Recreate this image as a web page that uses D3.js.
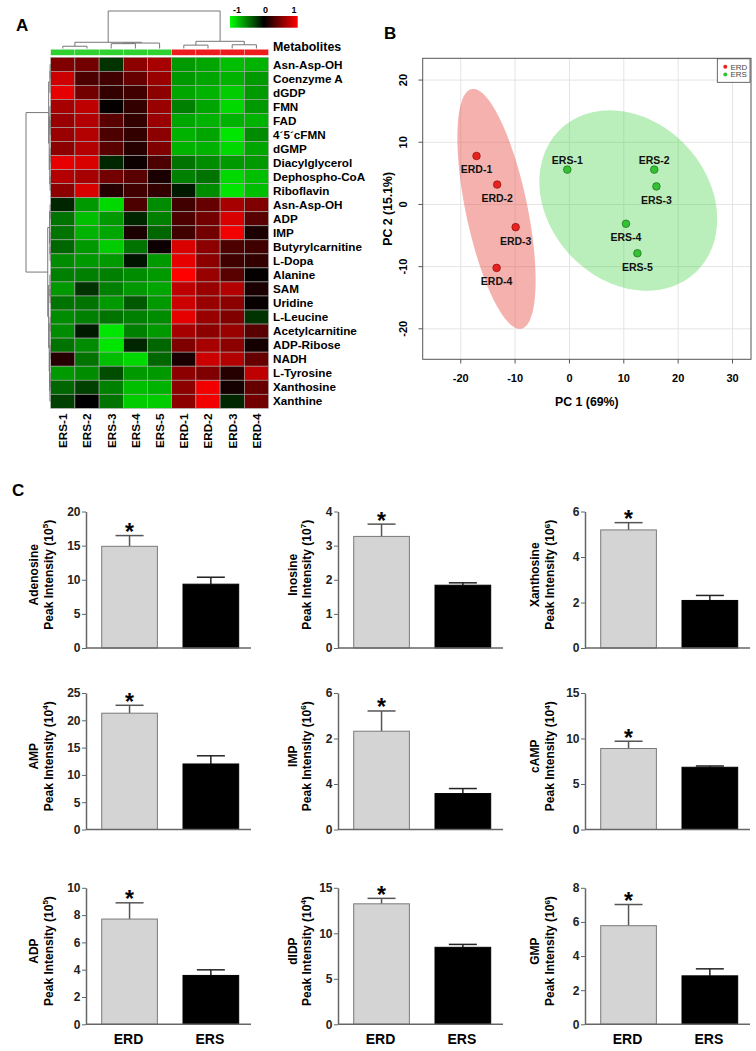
<!DOCTYPE html>
<html><head><meta charset="utf-8">
<script src="https://cdn.jsdelivr.net/npm/d3@7"></script>
<style>
body{margin:0;background:#fff}
svg{display:block}
text{font-family:Arial,"Liberation Sans",sans-serif}
</style>
</head><body>
<svg id="fig" width="756" height="1051"></svg>
<script>
// ================= DATA =================
// Panel A heatmap
const hmSamples = ["ERS-1","ERS-2","ERS-3","ERS-4","ERS-5","ERD-1","ERD-2","ERD-3","ERD-4"];
const hmGroups  = ["ERS","ERS","ERS","ERS","ERS","ERD","ERD","ERD","ERD"];
const hmMetabolites = ["Asn-Asp-OH","Coenzyme A","dGDP","FMN","FAD","4\u00b45\u00b4cFMN","dGMP","Diacylglycerol","Dephospho-CoA","Riboflavin",
  "Asn-Asp-OH","ADP","IMP","Butyrylcarnitine","L-Dopa","Alanine","SAM","Uridine","L-Leucine","Acetylcarnitine","ADP-Ribose","NADH","L-Tyrosine","Xanthosine","Xanthine"];
const hmValues = [
  [ 0.50, 0.45,-0.20, 0.55, 0.65, -0.60,-0.65,-0.75,-0.70],
  [ 0.80, 0.30, 0.25, 0.40, 0.60, -0.60,-0.65,-0.70,-0.60],
  [ 0.90, 0.45, 0.20, 0.25, 0.55, -0.65,-0.70,-0.80,-0.60],
  [ 0.65, 0.75, 0.02, 0.20, 0.60, -0.50,-0.65,-0.85,-0.60],
  [ 0.60, 0.70, 0.35, 0.20, 0.60, -0.65,-0.70,-0.70,-0.70],
  [ 0.60, 0.70, 0.30, 0.20, 0.55, -0.70,-0.65,-0.90,-0.55],
  [ 0.55, 0.70, 0.35, 0.15, 0.50, -0.70,-0.70,-0.85,-0.65],
  [ 0.90, 0.85,-0.15, 0.05, 0.30, -0.45,-0.55,-0.60,-0.60],
  [ 0.70, 0.65, 0.45, 0.35, 0.10, -0.50,-0.45,-0.85,-0.75],
  [ 0.55, 0.85, 0.15, 0.25, 0.20, -0.10,-0.55,-0.90,-0.75],
  [-0.15,-0.60,-0.85, 0.30,-0.55,  0.25, 0.40, 0.65, 0.50],
  [-0.45,-0.75,-0.60,-0.15,-0.50,  0.30, 0.45, 0.85, 0.35],
  [-0.45,-0.70,-0.65, 0.10,-0.40,  0.25, 0.45, 0.95, 0.10],
  [-0.40,-0.60,-0.80,-0.45, 0.05,  0.85, 0.55, 0.30, 0.25],
  [-0.55,-0.60,-0.60,-0.08,-0.60,  0.90, 0.55, 0.25, 0.20],
  [-0.50,-0.50,-0.50,-0.55,-0.60,  1.00, 0.60, 0.35, 0.02],
  [-0.60,-0.20,-0.50,-0.60,-0.65,  0.75, 0.60, 0.70, 0.10],
  [-0.45,-0.45,-0.60,-0.35,-0.60,  0.80, 0.60, 0.55, 0.03],
  [-0.55,-0.50,-0.45,-0.50,-0.55,  0.90, 0.60, 0.50,-0.20],
  [-0.55,-0.10,-0.90,-0.50,-0.60,  0.65, 0.55, 0.60, 0.35],
  [-0.45,-0.55,-0.90,-0.15,-0.40,  0.50, 0.65, 0.55, 0.08],
  [ 0.15,-0.45,-0.75,-0.85,-0.40,  0.10, 0.80, 0.70, 0.40],
  [-0.60,-0.55,-0.30,-0.60,-0.60,  0.55, 0.50, 0.15, 0.75],
  [-0.40,-0.25,-0.50,-0.75,-0.70,  0.55, 0.95, 0.08, 0.40],
  [-0.25, 0.00,-0.45,-0.80,-0.80,  0.55, 0.95,-0.15, 0.45]
];
const hmLegendTicks = [-1, 0, 1];
// column dendrogram (leaf = column index, h = merge height)
const colTree = {h:10, c:[
  {h:1.66, c:[{h:0.6, c:[0,1]}, {h:1.45, c:[{h:1.3, c:[2,3]}, 4]}]},
  {h:1.92, c:[{h:0.9, c:[5,6]}, {h:1.0, c:[7,8]}]}
]};
// row dendrogram (leaf = row index)
const rowTree = [
  [[[0,1],2],[[3,[4,5]],[[6,7],[8,9]]]],
  [[[10,11],[12,[13,14]]],[[15,[16,17]],[[18,19],[[20,21],[[22,23],24]]]]]
];

// Panel B PCA
const pcaSamples = ["ERD-1","ERD-2","ERD-3","ERD-4","ERS-1","ERS-2","ERS-3","ERS-4","ERS-5"];
const pcaGroups  = ["ERD","ERD","ERD","ERD","ERS","ERS","ERS","ERS","ERS"];
const pc1 = [-17.1,-13.3,-9.9,-13.4, -0.4,15.6,16.0,10.4,12.5];
const pc2 = [  7.8,  3.2,-3.65,-10.2, 5.6, 5.6, 2.9,-3.1,-7.85];
const pcaXTicks = [-20,-10,0,10,20,30];
const pcaYTicks = [-20,-10,0,10,20];
const pcaLabelAbove = ["ERS-1","ERS-2"];

// Panel C bar charts
const barGroups = ["ERD","ERS"];
const barMetabolites = ["Adenosine","Inosine","Xanthosine","AMP","IMP","cAMP","ADP","dIDP","GMP"];
const barExponents   = ["5","7","6","4","6","4","5","4","6"];
const erdMean = [14.9, 3.27, 5.19, 21.3, 4.32, 8.9, 7.71, 13.24, 5.78];
const erdSem  = [1.57, 0.36, 0.32, 1.45, 0.89, 0.8, 1.19, 0.60, 1.24];
const ersMean = [9.35, 1.84, 2.09, 12.0, 1.58, 6.84, 3.58, 8.46, 2.84];
const ersSem  = [1.02, 0.07, 0.22, 1.5, 0.22, 0.14, 0.41, 0.32, 0.41];
const barYMax = [20, 4, 6, 25, 6, 15, 10, 15, 8];
const barYTicks = [[0,5,10,15,20],[0,1,2,3,4],[0,2,4,6],[0,5,10,15,20,25],[0,2,4,6],[0,5,10,15],[0,2,4,6,8,10],[0,5,10,15],[0,2,4,6,8]];
const barYTickLabels = [null,null,null,null,["0","4","2","6"],null,null,null,null];

// ================= DRAW =================
const svg = d3.select("#fig");
const FONT = "Arial, 'Liberation Sans', sans-serif";

function panelLetter(t, x, y){
  svg.append("text").attr("x",x).attr("y",y).attr("font-size",17).attr("font-weight","bold").text(t);
}

// ---------- Panel A ----------
panelLetter("A", 16, 31);
const hx = d3.scaleBand().domain(d3.range(hmSamples.length)).range([50.7, 268.5]);
const hy = d3.scaleBand().domain(d3.range(hmMetabolites.length)).range([57.3, 408.3]);
const hc = d3.scaleLinear().domain([-1,0,1]).range(["#00ff00","#000000","#ff0000"]).clamp(true);
const gA = svg.append("g");

hmValues.forEach((row, r) => {
  row.forEach((v, c) => {
    gA.append("rect").attr("x", hx(c)).attr("y", hy(r))
      .attr("width", hx.bandwidth()).attr("height", hy.bandwidth())
      .attr("fill", hc(v)).attr("stroke", "#a8a8a8").attr("stroke-width", 0.6);
  });
});
// group bar
const groupColor = {ERS:"#2fd02f", ERD:"#ee1c1c"};
hmGroups.forEach((g, c) => {
  gA.append("rect").attr("x", hx(c)).attr("y", 49.3).attr("width", hx.bandwidth()).attr("height", 6)
    .attr("fill", groupColor[g]).attr("stroke", "#fff").attr("stroke-width", 0.3);
});
gA.append("text").attr("x", 273).attr("y", 51).attr("font-size", 12.4).attr("font-weight","bold").text("Metabolites");
// row labels
hmMetabolites.forEach((m, r) => {
  gA.append("text").attr("x", 273).attr("y", hy(r) + hy.bandwidth()/2 + 4.2)
    .attr("font-size", 11.7).attr("font-weight","bold").text(m);
});
// column labels
hmSamples.forEach((s, c) => {
  const cx = hx(c) + hx.bandwidth()/2 + 4.3;
  gA.append("text").attr("transform", `translate(${cx},413.5) rotate(-90)`)
    .attr("text-anchor","end").attr("font-size", 11.7).attr("font-weight","bold").text(s);
});
// dendrograms
function toNode(n){
  if (typeof n === "number") return n;
  const c = n.map(toNode);
  const cnt = c.reduce((a,k)=>a + (typeof k === "number" ? 1 : k.n), 0);
  return {c, n:cnt, h: 0.075*cnt};
}
function drawTree(g, node, leafPos, hScale, vertical){
  if (typeof node === "number") return [leafPos(node), 0];
  const k = node.c.map(ch => drawTree(g, ch, leafPos, hScale, vertical));
  const H = node.h;
  const pts = [[k[0][0], k[0][1]], [k[0][0], H], [k[1][0], H], [k[1][0], k[1][1]]];
  const d = "M" + pts.map(p => vertical ? [p[0], hScale(p[1])] : [hScale(p[1]), p[0]]).join("L");
  g.append("path").attr("d", d).attr("fill","none").attr("stroke","#777").attr("stroke-width",1);
  return [(k[0][0] + k[1][0]) / 2, H];
}
const colH = d3.scaleLinear().domain([0,10]).range([48.5, 11]);
drawTree(gA, colTree, i => hx(i) + hx.bandwidth()/2, colH, true);
const rowRoot = toNode(rowTree); rowRoot.h = 10;
const rowH = d3.scaleLinear().domain([0,10]).range([50.5, 26]);
drawTree(gA, rowRoot, i => hy(i) + hy.bandwidth()/2, rowH, false);

// color legend
const defs = svg.append("defs");
const grad = defs.append("linearGradient").attr("id","hmgrad");
[-1,-0.5,0,0.5,1].forEach(v => grad.append("stop").attr("offset", ((v+1)/2*100)+"%").attr("stop-color", hc(v)));
gA.append("rect").attr("x",230).attr("y",16).attr("width",67.7).attr("height",11.7).attr("fill","url(#hmgrad)");
const lgScale = d3.scaleLinear().domain([-1,1]).range([237, 294]);
hmLegendTicks.forEach(t => {
  gA.append("text").attr("x", lgScale(t)).attr("y", 12.7).attr("text-anchor","middle")
    .attr("font-size", 9).attr("font-weight","bold").text(t);
});

// ---------- Panel B ----------
panelLetter("B", 384, 39);
const px = d3.scaleLinear().domain([-27, 33.4]).range([422.7, 751]);
const py = d3.scaleLinear().domain([-24.9, 23.5]).range([359.3, 58.3]);
const gB = svg.append("g");
// grid
pcaXTicks.forEach(t => gB.append("line").attr("x1",px(t)).attr("x2",px(t)).attr("y1",py.range()[1]).attr("y2",py.range()[0]).attr("stroke","#e4e4e4").attr("stroke-width",1));
pcaYTicks.forEach(t => gB.append("line").attr("y1",py(t)).attr("y2",py(t)).attr("x1",px.range()[0]).attr("x2",px.range()[1]).attr("stroke","#e4e4e4").attr("stroke-width",1));
// ellipses (95% confidence, from group covariance)
const ellColor = {ERD:{fill:"#e8453f", op:0.42}, ERS:{fill:"#3fd03f", op:0.36}};
["ERD","ERS"].forEach(grp => {
  const idx = pcaGroups.map((g,i)=>g===grp?i:-1).filter(i=>i>=0);
  const xs = idx.map(i=>pc1[i]), ys = idx.map(i=>pc2[i]);
  const n = xs.length, mx = d3.mean(xs), my = d3.mean(ys);
  let sxx=0, syy=0, sxy=0;
  for (let i=0;i<n;i++){ sxx += (xs[i]-mx)**2; syy += (ys[i]-my)**2; sxy += (xs[i]-mx)*(ys[i]-my); }
  sxx/=(n-1); syy/=(n-1); sxy/=(n-1);
  const tr = sxx+syy, det = sxx*syy - sxy*sxy, disc = Math.sqrt(tr*tr/4 - det);
  const l1 = tr/2 + disc, l2 = tr/2 - disc;
  const ang = Math.atan2(l1 - sxx, sxy);
  const a = Math.sqrt(5.991*l1), b = Math.sqrt(5.991*l2);
  const pts = d3.range(0, 2*Math.PI, Math.PI/90).map(t => {
    const ex = a*Math.cos(t), ey = b*Math.sin(t);
    return [px(mx + ex*Math.cos(ang) - ey*Math.sin(ang)), py(my + ex*Math.sin(ang) + ey*Math.cos(ang))];
  });
  gB.append("path").attr("d", d3.line().curve(d3.curveLinearClosed)(pts))
    .attr("fill", ellColor[grp].fill).attr("fill-opacity", ellColor[grp].op);
});
// box
gB.append("rect").attr("x",px.range()[0]).attr("y",py.range()[1]).attr("width",px.range()[1]-px.range()[0]).attr("height",py.range()[0]-py.range()[1])
  .attr("fill","none").attr("stroke","#555").attr("stroke-width",1);
// ticks
pcaXTicks.forEach(t => {
  gB.append("line").attr("x1",px(t)).attr("x2",px(t)).attr("y1",359.3).attr("y2",363.5).attr("stroke","#555");
  gB.append("text").attr("x",px(t)).attr("y",382).attr("text-anchor","middle").attr("font-size",11).attr("font-weight","bold").text(t);
});
pcaYTicks.forEach(t => {
  gB.append("line").attr("y1",py(t)).attr("y2",py(t)).attr("x1",422.7).attr("x2",418.5).attr("stroke","#555");
  gB.append("text").attr("transform",`translate(407,${py(t)}) rotate(-90)`).attr("text-anchor","middle").attr("font-size",11).attr("font-weight","bold").text(t);
});
gB.append("text").attr("x",(px.range()[0]+px.range()[1])/2).attr("y",406).attr("text-anchor","middle").attr("font-size",12.3).attr("font-weight","bold").text("PC 1 (69%)");
gB.append("text").attr("transform",`translate(391.5,${(py.range()[0]+py.range()[1])/2}) rotate(-90)`).attr("text-anchor","middle").attr("font-size",12.3).attr("font-weight","bold").text("PC 2 (15.1%)");
// points
const ptColor = {ERD:{f:"#e8221e", s:"#8a1010"}, ERS:{f:"#34c234", s:"#1a6a1a"}};
pcaSamples.forEach((s,i) => {
  gB.append("circle").attr("cx",px(pc1[i])).attr("cy",py(pc2[i])).attr("r",3.8)
    .attr("fill",ptColor[pcaGroups[i]].f).attr("stroke",ptColor[pcaGroups[i]].s).attr("stroke-width",0.7);
  const above = pcaLabelAbove.includes(s);
  gB.append("text").attr("x",px(pc1[i])).attr("y",py(pc2[i]) + (above ? -5.5 : 17.5))
    .attr("text-anchor","middle").attr("font-size",10.5).attr("font-weight","bold").attr("fill","#111").text(s);
});
// legend
gB.append("rect").attr("x",717.3).attr("y",58.8).attr("width",32.7).attr("height",23.5).attr("fill","#fff").attr("stroke","#444").attr("stroke-width",0.8);
["ERD","ERS"].forEach((g,i) => {
  gB.append("circle").attr("cx",725.3).attr("cy",66.7 + i*7.7).attr("r",2).attr("fill",ptColor[g].f);
  gB.append("text").attr("x",730.5).attr("y",69.5 + i*7.7).attr("font-size",8).attr("fill","#444").text(g);
});

// ---------- Panel C ----------
panelLetter("C", 12, 496);
const colAxisX = [86, 338, 585];
const rowBase = [648, 829.5, 1024.3];
const titleOff = [[-48.5,-33.5],[-41,-27.5],[-46.5,-31]];
const plotH = 136.5, plotW = 165;
barMetabolites.forEach((m, i) => {
  const ax = colAxisX[i%3], y0 = rowBase[Math.floor(i/3)];
  const g = svg.append("g");
  const y = d3.scaleLinear().domain([0, barYMax[i]]).range([y0, y0 - plotH]);
  const xb = d3.scaleBand().domain(barGroups).range([ax + 15.7, ax + 152.7]).paddingInner(0.315);
  const means = [erdMean[i], ersMean[i]], sems = [erdSem[i], ersSem[i]];
  barGroups.forEach((grp, j) => {
    const cx = xb(grp) + xb.bandwidth()/2;
    const top = y(means[j] + sems[j]);
    const ec = j === 0 ? "#555" : "#222";
    g.append("line").attr("x1",cx).attr("x2",cx).attr("y1",y(means[j])).attr("y2",top).attr("stroke",ec).attr("stroke-width",1.5);
    g.append("line").attr("x1",cx-14).attr("x2",cx+14).attr("y1",top).attr("y2",top).attr("stroke",ec).attr("stroke-width",1.5);
    g.append("rect").attr("x",xb(grp)).attr("y",y(means[j])).attr("width",xb.bandwidth()).attr("height",y0 - y(means[j]))
      .attr("fill", j === 0 ? "#d4d4d4" : "#000").attr("stroke", j === 0 ? "#7a7a7a" : "#000").attr("stroke-width",1);
    if (j === 0) {
      g.append("text").attr("x",cx).attr("y",top + 4.5).attr("text-anchor","middle").attr("font-size",23).attr("font-weight","bold").text("*");
    }
    if (Math.floor(i/3) === 2) {
      g.append("text").attr("x",cx - 1).attr("y",y0 + 19.5).attr("text-anchor","middle").attr("font-size",14).attr("font-weight","bold").text(grp);
    }
  });
  // axes
  const labs = barYTickLabels[i];
  const axis = d3.axisLeft(y).tickValues(barYTicks[i]).tickSize(4).tickSizeOuter(0).tickPadding(1.5)
    .tickFormat((d, k) => labs ? labs[k] : d);
  const ag = g.append("g").attr("transform",`translate(${ax},0)`).call(axis);
  ag.select(".domain").attr("stroke","#666").attr("stroke-width",1.5);
  ag.selectAll(".tick line").attr("stroke","#666").attr("stroke-width",1);
  ag.selectAll(".tick text").attr("font-family",FONT).attr("font-size",12).attr("font-weight","bold").attr("fill","#222");
  g.append("line").attr("x1",ax).attr("x2",ax+plotW).attr("y1",y0).attr("y2",y0).attr("stroke","#666").attr("stroke-width",1.5);
  // y title
  const ym = y0 - plotH/2 - 5, off = titleOff[i%3];
  g.append("text").attr("transform",`translate(${ax+off[0]},${ym}) rotate(-90)`).attr("text-anchor","middle")
    .attr("font-size",12).attr("font-weight","bold").text(m);
  const t2 = g.append("text").attr("transform",`translate(${ax+off[1]},${ym}) rotate(-90)`).attr("text-anchor","middle")
    .attr("font-size",12).attr("font-weight","bold");
  t2.append("tspan").text("Peak Intensity (10");
  t2.append("tspan").attr("dy",-4.5).attr("font-size",8).text(barExponents[i]);
  t2.append("tspan").attr("dy",4.5).text(")");
});
</script>
</body></html>
